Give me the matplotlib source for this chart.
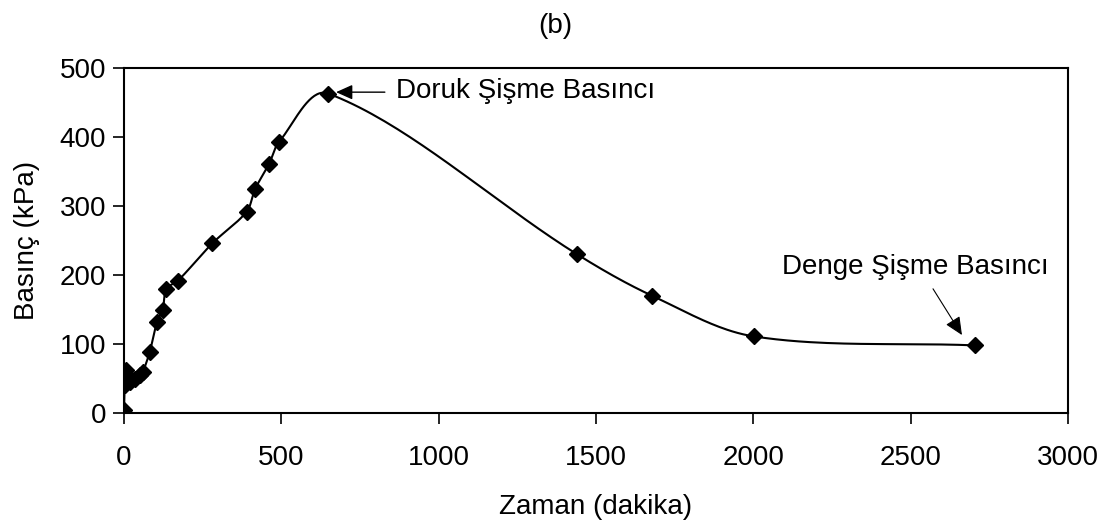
import numpy as np
import matplotlib
matplotlib.use('Agg')
import matplotlib.pyplot as plt

plt.rcParams['font.family'] = ['Liberation Sans', 'DejaVu Sans']

# time (minutes) and swelling pressure (kPa)
zaman = [0, 2, 5, 10, 20, 35, 50, 60, 82, 105, 123, 135, 172,
         281, 390, 416, 461, 493, 649, 1440, 1678, 2002, 2705]
basinc = [4, 40, 63, 55, 45, 49, 55, 60, 89, 132, 150, 180, 192,
          246, 292, 324, 361, 393, 463, 230, 170, 111, 98]

x_ticks = [0, 500, 1000, 1500, 2000, 2500, 3000]
y_ticks = [0, 100, 200, 300, 400, 500]


def smooth_line(xs, ys, sx, sy, n=40):
    # excel-like smoothed line, bezier control points scaled by segment length
    # (done in screen-like units so the shape doesn't depend on axis units)
    p = np.column_stack([np.asarray(xs) * sx, np.asarray(ys) * sy]).astype(float)
    p = np.vstack([p[0], p, p[-1]])
    out = []
    for i in range(1, len(p) - 2):
        p0, p1, p2, p3 = p[i - 1], p[i], p[i + 1], p[i + 2]
        d01 = np.hypot(*(p1 - p0))
        d12 = np.hypot(*(p2 - p1))
        d23 = np.hypot(*(p3 - p2))
        c1 = p1 + (p2 - p0) * (d12 / (d01 + d12 + 1e-9)) / 3.0
        c2 = p2 - (p3 - p1) * (d12 / (d12 + d23 + 1e-9)) / 3.0
        t = np.linspace(0, 1, n)[:, None]
        seg = ((1 - t) ** 3) * p1 + 3 * ((1 - t) ** 2) * t * c1 \
            + 3 * (1 - t) * t ** 2 * c2 + t ** 3 * p2
        out.append(seg)
    out = np.vstack(out)
    return out[:, 0] / sx, out[:, 1] / sy


fig = plt.figure(figsize=(11.11, 5.28), dpi=100)
ax = fig.add_axes([0.1116, 0.2178, 0.8497, 0.6534])

cx, cy = smooth_line(zaman, basinc, 944 / 3000, 345 / 500)
ax.plot(cx, cy, color='black', lw=1.5, zorder=2)
ax.plot(zaman, basinc, linestyle='none', marker='D', ms=8,
        color='black', zorder=3)

ax.set_xlim(0, 3000)
ax.set_ylim(0, 500)
ax.set_xticks(x_ticks)
ax.set_yticks(y_ticks)
ax.tick_params(direction='out', length=8, width=1.2, labelsize=20, pad=5)
ax.tick_params(axis='x', pad=15)
for s in ax.spines.values():
    s.set_linewidth(1.5)
ax.set_xlabel('Zaman (dakika)', fontsize=20)
ax.set_ylabel('Basınç (kPa)', fontsize=20)
ax.xaxis.set_label_coords(0.5, -0.235)
ax.yaxis.set_label_coords(-0.089, 0.5)
fig.text(0.5, 0.95, '(b)', ha='center', va='center', fontsize=20)

# annotations
pk = int(np.argmax(basinc))
ax.annotate('', xy=(zaman[pk] + 25, basinc[pk] + 2),
            xytext=(zaman[pk] + 180, basinc[pk] + 2),
            arrowprops=dict(arrowstyle='-|>,head_length=1.0,head_width=0.45',
                            color='black', lw=1.0, shrinkA=0, shrinkB=0))
ax.text(zaman[pk] + 215, basinc[pk] + 3, 'Doruk Şişme Basıncı',
        fontsize=20, va='center', ha='left')

ax.annotate('', xy=(zaman[-1] - 42, basinc[-1] + 15),
            xytext=(zaman[-1] - 134, basinc[-1] + 82),
            arrowprops=dict(arrowstyle='-|>,head_length=1.1,head_width=0.5',
                            color='black', lw=0.8, shrinkA=0, shrinkB=0))
ax.text(zaman[-1] - 190, basinc[-1] + 114, 'Denge Şişme Basıncı',
        fontsize=20, va='center', ha='center')

fig.savefig('out.png', dpi=100)
